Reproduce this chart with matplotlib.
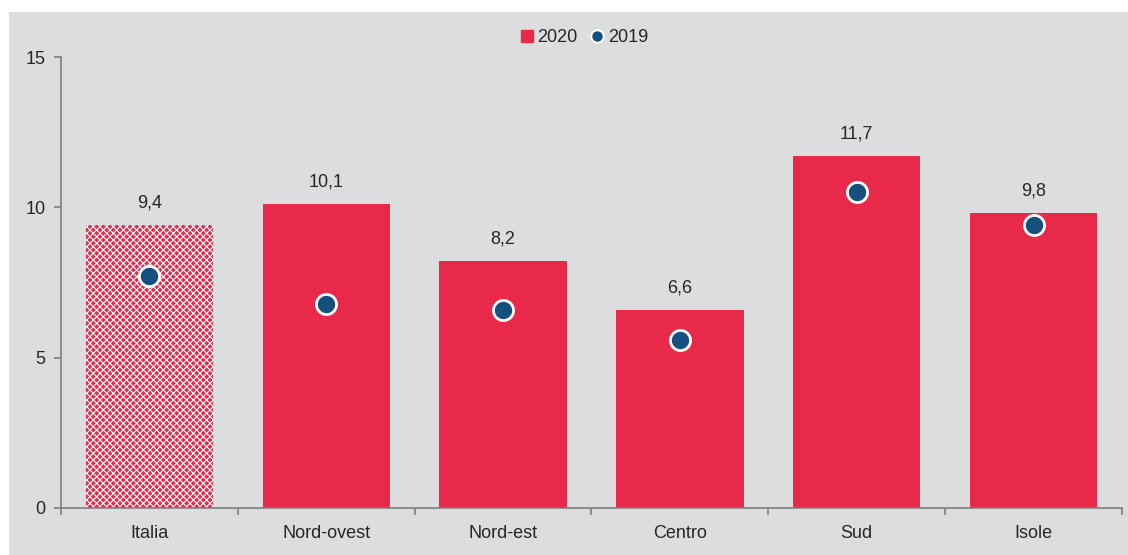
import matplotlib
matplotlib.use("Agg")
import matplotlib.pyplot as plt
from matplotlib.patches import Rectangle
from matplotlib.lines import Line2D
import numpy as np

categories = ["Italia", "Nord-ovest", "Nord-est", "Centro", "Sud", "Isole"]
values_2020 = [9.4, 10.1, 8.2, 6.6, 11.7, 9.8]
values_2019 = [7.7, 6.8, 6.6, 5.6, 10.5, 9.4]
labels_2020 = ["9,4", "10,1", "8,2", "6,6", "11,7", "9,8"]
yticks = [0, 5, 10, 15]

plt.rcParams['font.family'] = ['Liberation Sans', 'DejaVu Sans']
plt.rcParams['hatch.linewidth'] = 0.8
RED = "#E8294A"
NAVY = "#154F7E"
BG = "#DCDDDF"
TXT = "#262626"
AX = "#7F7F7F"
FS = 13

fig = plt.figure(figsize=(11.28, 5.55), dpi=100)
fig.patch.set_facecolor("white")
fig.patches.append(Rectangle((9/1128, 0), 1 - 9/1128, 1 - 12/555, transform=fig.transFigure,
                             facecolor=BG, edgecolor="none", zorder=-10))
ax = fig.add_axes([61/1128, 47/555, (1122-61)/1128, (508-57)/555])
ax.set_facecolor("none")

x = np.arange(len(categories))
bars = ax.bar(x, values_2020, width=0.72, color=RED, zorder=2, label="2020")
bars[0].set_hatch("xxxxx")
bars[0].set_edgecolor("white")
bars[0].set_linewidth(0)

for xi, v, lab in zip(x, values_2020, labels_2020):
    ax.text(xi, v + 0.45, lab, ha="center", va="bottom", fontsize=FS, color=TXT)

ax.scatter(x, values_2019, s=210, color=NAVY, edgecolor="white", linewidth=2, zorder=3, label="2019")

ax.set_xlim(-0.5, len(categories) - 0.5)
ax.set_ylim(0, 15)
ax.set_yticks(yticks)
ax.set_yticklabels([str(t) for t in yticks], fontsize=FS, color=TXT)
ax.set_xticks(x)
ax.set_xticklabels(categories, fontsize=FS, color=TXT)
ax.tick_params(axis="x", length=0, pad=12)
ax.tick_params(axis="y", length=5, color=AX, width=1.2, pad=6)
ax.set_xticks(np.arange(-0.5, len(categories)), minor=True)
ax.tick_params(axis="x", which="minor", length=5, color=AX, width=1.2, direction="out")
for s in ["top", "right"]:
    ax.spines[s].set_visible(False)
for s in ["left", "bottom"]:
    ax.spines[s].set_color(AX)
    ax.spines[s].set_linewidth(1.2)

handles = [Line2D([], [], marker="s", linestyle="none", markersize=8, markerfacecolor=RED, markeredgecolor=RED),
           Line2D([], [], marker="o", linestyle="none", markersize=9, markerfacecolor=NAVY, markeredgecolor="white", markeredgewidth=1.5)]
fig.legend(handles, ["2020", "2019"], loc="center", bbox_to_anchor=(583/1128, 1 - 38/555), ncol=2,
           frameon=False, fontsize=FS, handletextpad=0.1, columnspacing=0.6, handlelength=1.0,
           labelcolor=TXT)

fig.savefig("out.png", dpi=100, facecolor=fig.get_facecolor())
